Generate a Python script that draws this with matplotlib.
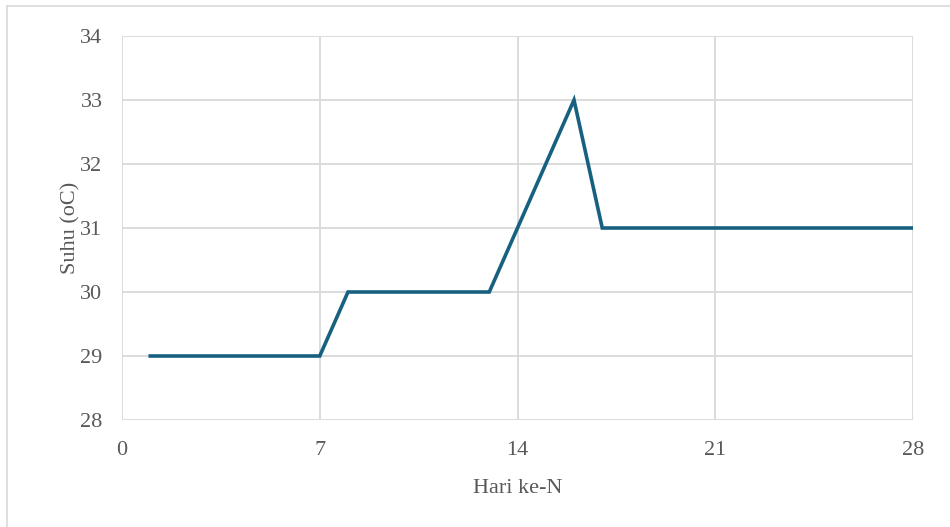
import matplotlib.pyplot as plt
from matplotlib.lines import Line2D

# data
hari = list(range(1, 29))
suhu = [29, 29, 29, 29, 29, 29, 29,
        30, 30, 30, 30, 30, 30,
        31, 32, 33,
        31, 31, 31, 31, 31, 31, 31, 31, 31, 31, 31, 31]
xticks = [0, 7, 14, 21, 28]
yticks = [28, 29, 30, 31, 32, 33, 34]

plt.rcParams['font.family'] = ['Liberation Serif', 'DejaVu Serif']
teks = '#595959'
grid = '#d9d9d9'

fig = plt.figure(figsize=(9.5, 5.27), dpi=100)
ax = fig.add_axes([122/950, 1 - 420/527, (913-122)/950, (420-36)/527])

ax.plot(hari, suhu, color='#17607f', lw=2.6, solid_joinstyle='miter', zorder=3)

ax.set_xlim(0, 28)
ax.set_ylim(28, 34)
ax.set_xticks(xticks)
ax.set_yticks(yticks)
ax.grid(True, color=grid, lw=1.3)
for s in ax.spines.values():
    s.set_visible(False)
ax.tick_params(length=0, labelsize=16, colors=teks)
ax.tick_params(axis='x', pad=15)
ax.tick_params(axis='y', pad=14)

ax.set_xlabel('Hari ke-N', fontsize=16, color=teks, labelpad=14)
ax.set_ylabel('Suhu (oC)', fontsize=16, color=teks, labelpad=0)

# chart border
fig.add_artist(Line2D([7/950, 1], [1 - 6/527, 1 - 6/527], color=grid, lw=1.2))
fig.add_artist(Line2D([7/950, 7/950], [0, 1 - 6/527], color=grid, lw=1.2))

fig.savefig('out.png', dpi=100, facecolor='white')
